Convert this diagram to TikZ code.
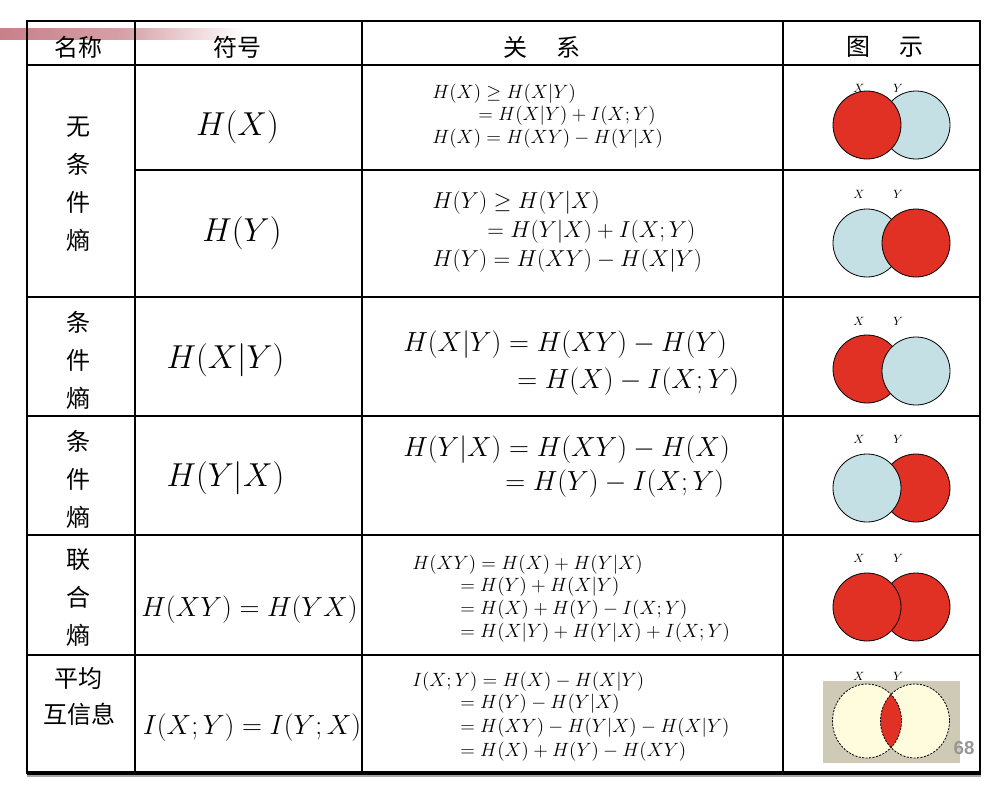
\documentclass[tikz,border=0pt]{standalone}
\usepackage{fontspec}
\newfontfamily\cjk{Noto Sans CJK SC}
\newfontfamily\numfont{Liberation Sans}
\definecolor{barred}{RGB}{200,128,138}
\definecolor{vred}{RGB}{225,48,36}
\definecolor{vblue}{RGB}{196,224,228}
\definecolor{vbeige}{RGB}{206,202,182}
\definecolor{cream}{RGB}{255,252,222}
\definecolor{numgray}{RGB}{150,150,150}
\begin{document}
\begin{tikzpicture}[x=0.75pt,y=-0.75pt]
\useasboundingbox (0,0) rectangle (1000,786);
\tikzset{
  gridline/.style={line width=1.1pt,black},
  outerline/.style={line width=2.2pt,black},
  head/.style={font=\cjk\fontsize{18}{20}\selectfont,inner sep=0pt},
  namecol/.style={font=\cjk\fontsize{18}{28.5}\selectfont,align=center,inner sep=0pt},
  vennline/.style={line width=0.6pt,black},
  lab/.style={font=\fontsize{9}{10}\selectfont,inner sep=0pt},
  fl/.style={anchor=west,inner sep=0pt},
}
% decorative bar
\shade[left color=barred,right color=white,middle color=barred!75] (0,28) rectangle (245,39);
% header
\node[head] (h1) at (78,47) {名称};
\node[head] (h2) at (237,47) {符号};
\node[head] (h3) at (542,47) {关\hspace{22pt}系};
\node[head] (h4) at (885,47) {图\hspace{22pt}示};
% name column
\node[namecol] (n1) at (78,184) {无\\条\\件\\熵};
\node[namecol] (n2) at (78,360) {条\\件\\熵};
\node[namecol] (n3) at (78,479) {条\\件\\熵};
\node[namecol] (n4) at (78,598) {联\\合\\熵};
\node[namecol,font=\cjk\fontsize{18}{27.5}\selectfont] (n5) at (79,696.5) {平均\\互信息};
% symbol column
\node[inner sep=0pt,font=\fontsize{25}{30}\selectfont] (s1) at (237.5,127) {$H(X)$};
\node[inner sep=0pt,font=\fontsize{27}{32}\selectfont] (s2) at (242,233) {$H(Y)$};
\node[inner sep=0pt,font=\fontsize{26.6}{32}\selectfont] (s3) at (225.5,360) {$H(X|Y)$};
\node[inner sep=0pt,font=\fontsize{26.6}{32}\selectfont] (s4) at (225.5,478) {$H(Y|X)$};
\node[inner sep=0pt,font=\fontsize{20.2}{25}\selectfont] (s5) at (249.5,610) {$H(XY)=H(YX)$};
\node[inner sep=0pt,font=\fontsize{20.2}{25}\selectfont] (s6) at (252,728) {$I(X;Y)=I(Y;X)$};
% relation column
\begin{scope}[every node/.style={fl,font=\fontsize{14}{16}\selectfont}]
\node (r1a) at (432,94) {$H(X)\geq H(X|Y)$};
\node (r1b) at (478,116) {$=H(X|Y)+I(X;Y)$};
\node (r1c) at (432,138.5) {$H(X)=H(XY)-H(Y|X)$};
\end{scope}
\begin{scope}[every node/.style={fl,font=\fontsize{16.3}{18}\selectfont}]
\node (r2a) at (432,203) {$H(Y)\geq H(Y|X)$};
\node (r2b) at (487,232) {$=H(Y|X)+I(X;Y)$};
\node (r2c) at (432,261) {$H(Y)=H(XY)-H(X|Y)$};
\end{scope}
\begin{scope}[every node/.style={fl,font=\fontsize{22.8}{26}\selectfont}]
\node (r3a) at (403,345) {$H(X|Y)=H(XY)-H(Y)$};
\node (r3b) at (517,382) {$=H(X)-I(X;Y)$};
\end{scope}
\begin{scope}[every node/.style={fl,font=\fontsize{19.6}{24}\selectfont}]
\node (r4a) at (403,450) {$H(Y|X)=H(XY)-H(X)$};
\node (r4b) at (505,484) {$=H(Y)-I(X;Y)$};
\end{scope}
\begin{scope}[every node/.style={fl,font=\fontsize{14.2}{16}\selectfont}]
\node (r5a) at (412,565) {$H(XY)=H(X)+H(Y|X)$};
\node (r5b) at (460,587) {$=H(Y)+H(X|Y)$};
\node (r5c) at (460,610) {$=H(X)+H(Y)-I(X;Y)$};
\node (r5d) at (460,633) {$=H(X|Y)+H(Y|X)+I(X;Y)$};
\node (r6a) at (412,682) {$I(X;Y)=H(X)-H(X|Y)$};
\node (r6b) at (460,704) {$=H(Y)-H(Y|X)$};
\node (r6c) at (460,728) {$=H(XY)-H(Y|X)-H(X|Y)$};
\node (r6d) at (460,752) {$=H(X)+H(Y)-H(XY)$};
\end{scope}
% Venn diagrams
% row 1
\node[lab] (x1) at (859,88) {$X$};
\node[lab] (y1) at (898,88) {$Y$};
\draw[vennline,fill=vblue] (916,125) circle[radius=34];
\draw[vennline,fill=vred] (867,125) circle[radius=34];
% row 2
\node[lab] (x2) at (859,194) {$X$};
\node[lab] (y2) at (898,194) {$Y$};
\draw[vennline,fill=vblue] (867,243) circle[radius=34];
\draw[vennline,fill=vred] (916,243) circle[radius=34];
% row 3
\node[lab] (x3) at (859,321) {$X$};
\node[lab] (y3) at (898,321) {$Y$};
\draw[vennline,fill=vred] (867,369) circle[radius=34];
\draw[vennline,fill=vblue] (916,371) circle[radius=34];
% row 4
\node[lab] (x4) at (859,439) {$X$};
\node[lab] (y4) at (898,439) {$Y$};
\draw[vennline,fill=vred] (916,488) circle[radius=34];
\draw[vennline,fill=vblue] (867,488) circle[radius=34];
% row 5
\node[lab] (x5) at (859,558) {$X$};
\node[lab] (y5) at (898,558) {$Y$};
\draw[vennline,fill=vred] (916,607) circle[radius=34];
\draw[vennline,fill=vred] (867,607) circle[radius=34];
% row 6
\node[lab] (x6) at (859,676) {$X$};
\node[lab] (y6) at (898,676) {$Y$};
\fill[vbeige] (823,681) rectangle (960,763);
\fill[cream] (867,721) circle[x radius=34.5,y radius=37];
\fill[cream] (915,721) circle[x radius=34.5,y radius=37];
\begin{scope}
\clip (867,721) circle[x radius=34.5,y radius=37];
\fill[vred] (915,721) circle[x radius=34.5,y radius=37];
\end{scope}
\draw[line width=0.6pt,dash pattern=on 1.6pt off 1pt] (867,721) circle[x radius=34.5,y radius=37];
\draw[line width=0.6pt,dash pattern=on 1.6pt off 1pt] (915,721) circle[x radius=34.5,y radius=37];
\node[font=\numfont\bfseries\fontsize{14}{16}\selectfont,text=numgray,inner sep=0pt] (pg) at (964,748) {68};
% table grid
\draw[gridline] (27,65) -- (980,65);
\draw[gridline] (135,170) -- (980,170);
\draw[gridline] (27,297) -- (980,297);
\draw[gridline] (27,416) -- (980,416);
\draw[gridline] (27,535) -- (980,535);
\draw[gridline] (27,655) -- (980,655);
\draw[gridline] (135,21) -- (135,773);
\draw[gridline] (362,21) -- (362,773);
\draw[gridline] (783,21) -- (783,773);
\draw[line width=1.2pt,black!35] (27,776) -- (981,776);
\draw[outerline] (27,21) rectangle (980,773);
\draw[line width=3pt] (27,773) -- (981,773);
\end{tikzpicture}
\end{document}
